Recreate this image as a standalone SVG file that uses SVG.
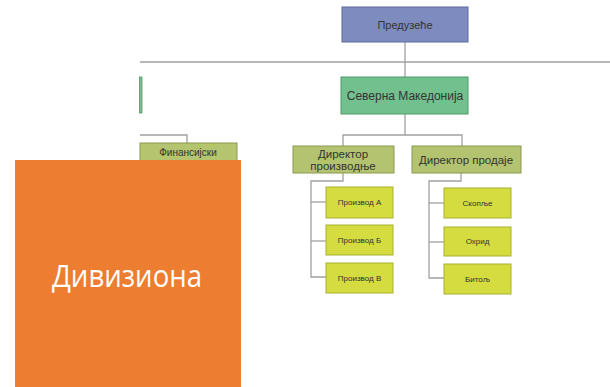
<svg xmlns="http://www.w3.org/2000/svg" width="610" height="387" viewBox="0 0 610 387">
<style>
.ln{fill:none;stroke:#a0a0a0;stroke-width:1.3}
.t{font-family:"Liberation Sans",Arial,sans-serif;fill:#333;text-anchor:middle}
.dir{fill:#b3c36f;stroke:#8a9a50;stroke-width:1}
.leaf{fill:#d4dc3f;stroke:#a8b030;stroke-width:1}
</style>
<rect width="610" height="387" fill="#ffffff"/>
<g id="connectors">
<line class="ln" x1="140" y1="62" x2="610" y2="62"/>
<line class="ln" x1="405" y1="42" x2="405" y2="77"/>
<line class="ln" x1="405" y1="114" x2="405" y2="135"/>
<polyline class="ln" points="343,146 343,135 462,135 462,146"/>
<polyline class="ln" points="140,135 187,135 187,143"/>
<polyline class="ln" points="343,173 343,181 311,181 311,277 326,277"/>
<line class="ln" x1="311" y1="202" x2="326" y2="202"/>
<line class="ln" x1="311" y1="241" x2="326" y2="241"/>
<polyline class="ln" points="461,173 461,181 429,181 429,278 444,278"/>
<line class="ln" x1="429" y1="203" x2="444" y2="203"/>
<line class="ln" x1="429" y1="242" x2="444" y2="242"/>
</g>
<g id="n-preduzece">
<rect x="342" y="7" width="126" height="35" fill="#7e8bbf" stroke="#5d6aa0"/>
<text class="t" x="405" y="29" font-size="11">Предузеће</text>
</g>
<g id="n-left-green">
<rect x="139.5" y="77" width="2.5" height="36" fill="#74c08f" stroke="#4f9a6a" stroke-width="0.8"/>
</g>
<g id="n-severna">
<rect x="341" y="77" width="127" height="37" fill="#72c08e" stroke="#4f9a6a"/>
<text class="t" x="405" y="100" font-size="12">Северна Македонија</text>
</g>
<g id="n-finansiski">
<rect x="140" y="143" width="97" height="20" fill="#b5c46e" stroke="#8a9a50"/>
<text class="t" x="188" y="156" font-size="10" fill="#222">Финансијски</text>
</g>
<g id="n-dir-proizv">
<rect class="dir" x="293" y="146" width="101" height="27"/>
<text class="t" x="343" y="158" font-size="11.5">Директор</text>
<text class="t" x="343" y="170" font-size="11.5">производње</text>
</g>
<g id="n-dir-prod">
<rect class="dir" x="412" y="146" width="109" height="27"/>
<text class="t" x="466" y="164" font-size="11.5">Директор продаје</text>
</g>
<g id="n-a">
<rect class="leaf" x="326" y="187" width="67" height="31"/>
<text class="t" x="359.5" y="205" font-size="8">Производ А</text>
</g>
<g id="n-b">
<rect class="leaf" x="326" y="225" width="67" height="30"/>
<text class="t" x="359.5" y="243" font-size="8">Производ Б</text>
</g>
<g id="n-v">
<rect class="leaf" x="326" y="263" width="67" height="30"/>
<text class="t" x="359.5" y="281" font-size="8">Производ В</text>
</g>
<g id="n-skopje">
<rect class="leaf" x="444" y="188" width="67" height="30"/>
<text class="t" x="477.5" y="206" font-size="8">Скопље</text>
</g>
<g id="n-ohrid">
<rect class="leaf" x="444" y="227" width="67" height="29"/>
<text class="t" x="477.5" y="244" font-size="8">Охрид</text>
</g>
<g id="n-bitola">
<rect class="leaf" x="444" y="264" width="67" height="30"/>
<text class="t" x="477.5" y="282" font-size="8">Битољ</text>
</g>
<g id="n-divizion">
<rect x="15" y="160" width="226" height="227" fill="#ed7d31"/>
<text x="127" y="287" font-family="'Open Sans','Noto Sans',sans-serif" font-size="31" fill="#ffffff" text-anchor="middle" textLength="150" lengthAdjust="spacingAndGlyphs">Дивизиона</text>
</g>
</svg>
